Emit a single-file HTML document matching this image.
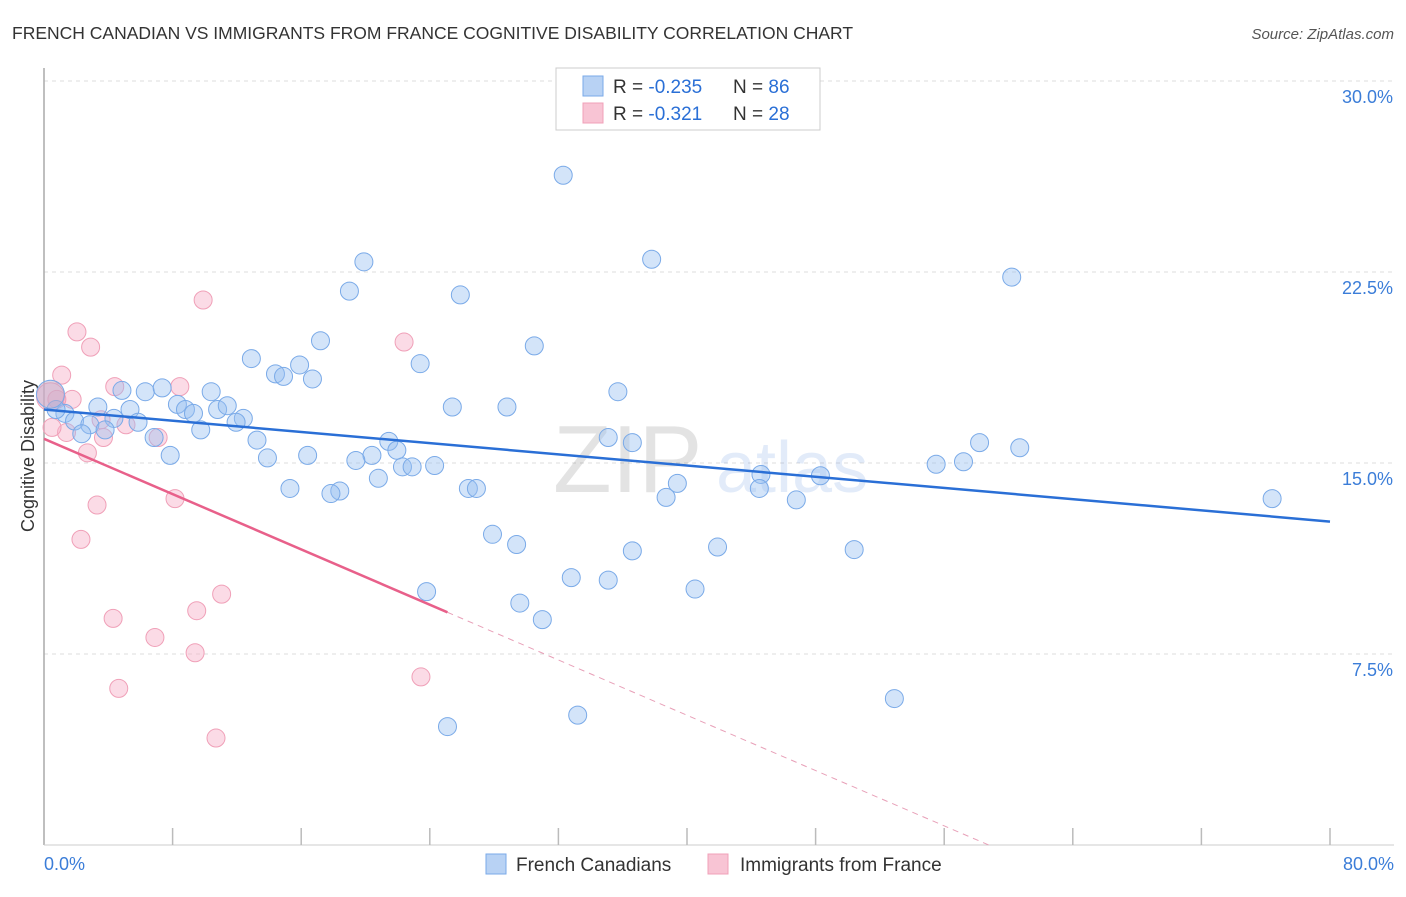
<!DOCTYPE html>
<html><head><meta charset="utf-8"><style>
body{margin:0;background:#fff;font-family:"Liberation Sans",sans-serif;}
svg text{font-family:"Liberation Sans",sans-serif;}
</style></head><body>
<svg id="chart" width="1406" height="892" viewBox="0 0 1406 892" xmlns="http://www.w3.org/2000/svg">
<text x="12" y="39" font-size="17.5" fill="#333">FRENCH CANADIAN VS IMMIGRANTS FROM FRANCE COGNITIVE DISABILITY CORRELATION CHART</text>
<text x="1394" y="39" font-size="15" fill="#555" font-style="italic" text-anchor="end">Source: ZipAtlas.com</text>
<g id="grid"></g>
<g opacity="0.13">
<text x="553" y="492" font-size="96" font-family="Liberation Serif" fill="#333">ZIP</text>
<text x="716" y="492" font-size="72" fill="#2a6fd6">atlas</text>
</g>
<line x1="44" y1="68" x2="44" y2="845" stroke="#aaa" stroke-width="1.5"/>
<line x1="44" y1="845" x2="1394" y2="845" stroke="#ccc" stroke-width="1"/>
<g id="xticks"></g>
<g id="yticks"></g>
<text x="44" y="870" font-size="18" fill="#3b7dd8">0.0%</text>
<text x="1394" y="870" font-size="18" fill="#3b7dd8" text-anchor="end">80.0%</text>
<text transform="translate(34,456) rotate(-90)" font-size="18" fill="#333" text-anchor="middle">Cognitive Disability</text>
<g id="pts-pink"></g>
<g id="pts-blue"></g>
<g id="lines"></g>
<g>
<rect x="556" y="68" width="264" height="62" fill="#fff" stroke="#ccc"/>
<rect x="583" y="76" width="20" height="20" fill="#b8d2f4" stroke="#7aaae8"/>
<rect x="583" y="103" width="20" height="20" fill="#f8c4d4" stroke="#f0a0b8"/>
<text x="613" y="93" font-size="19" fill="#333">R = <tspan fill="#2a6fd6">-0.235</tspan><tspan x="733">N = </tspan><tspan fill="#2a6fd6">86</tspan></text>
<text x="613" y="120" font-size="19" fill="#333">R =  <tspan fill="#2a6fd6">-0.321</tspan><tspan x="733">N = </tspan><tspan fill="#2a6fd6">28</tspan></text>
</g>
<g>
<rect x="486" y="854" width="20" height="20" fill="#b8d2f4" stroke="#7aaae8"/>
<text x="516" y="871" font-size="19" fill="#333">French Canadians</text>
<rect x="708" y="854" width="20" height="20" fill="#f8c4d4" stroke="#f0a0b8"/>
<text x="740" y="871" font-size="19" fill="#333">Immigrants from France</text>
</g>
</svg>
<script>
const yTicks=[7.5,15,22.5,30];
const yTickLabels=["7.5%","15.0%","22.5%","30.0%"];
const xTickCount=10;
const blueX=[32.3,37.8,19.9,60.2,19.0,25.9,17.2,30.5,12.9,15.9,23.4,14.4,14.9,16.7,35.7,4.85,6.3,7.35,10.4,25.4,28.8,3.35,5.35,8.3,8.8,9.3,10.8,11.4,12.4,11.95,1.3,0.75,1.9,2.85,4.35,5.85,3.8,2.35,6.85,9.75,13.25,21.45,21.95,20.4,16.4,19.4,13.9,7.85,22.3,22.9,24.3,20.8,35.1,36.6,58.2,60.7,55.5,57.2,44.6,48.3,39.4,15.3,18.4,17.85,26.4,26.9,38.7,44.5,46.8,76.4,27.9,29.4,36.6,41.9,50.4,32.8,35.1,23.8,40.5,29.6,31.0,52.9,33.2,25.1,37.3,0.4];
const blueY=[26.3,23.0,22.9,22.3,21.75,21.6,19.8,19.6,19.1,18.85,18.9,18.5,18.4,18.3,17.8,17.85,17.8,17.95,17.8,17.2,17.2,17.2,17.1,17.3,17.1,16.95,17.1,17.25,16.75,16.6,16.95,17.1,16.65,16.5,16.75,16.6,16.3,16.15,16.0,16.3,15.9,15.85,15.5,15.3,15.3,15.1,15.2,15.3,14.85,14.85,14.9,14.4,16.0,15.8,15.8,15.6,14.95,15.05,14.55,14.5,14.2,14.0,13.9,13.8,14.0,14.0,13.65,14.0,13.55,13.6,12.2,11.8,11.55,11.7,11.6,10.5,10.4,9.95,10.05,9.5,8.85,5.75,5.1,4.65,29.55,17.7];
const pinkX=[9.9,2.05,2.9,22.4,1.1,4.4,8.45,1.75,0.8,3.55,5.1,7.1,1.4,0.5,3.7,2.7,8.15,3.3,2.3,11.05,9.5,4.3,6.9,9.4,23.45,4.65,10.7,0.4];
const pinkY=[21.4,20.15,19.55,19.75,18.45,18.0,18.0,17.5,17.5,16.7,16.5,16.0,16.2,16.4,16.0,15.4,13.6,13.35,12.0,9.85,9.2,8.9,8.15,7.55,6.6,6.15,4.2,17.6];
const blueTrend=[17.1,12.7]; // y at x=0 and x=80
const pinkTrend=[15.95,-0.2714]; // intercept, slope
const pinkSolidEnd=25.1;
const NS="http://www.w3.org/2000/svg";
const X0=44,X1=1330,Y0=845,Y30=81;
function sx(v){return X0+(X1-X0)*v/80;}
function sy(v){return Y0-(Y0-Y30)*v/30;}
function mk(tag,attrs,parent){const e=document.createElementNS(NS,tag);for(const k in attrs)e.setAttribute(k,attrs[k]);parent.appendChild(e);return e;}
const grid=document.getElementById('grid'),yt=document.getElementById('yticks'),xt=document.getElementById('xticks');
yTicks.forEach((t,i)=>{
 const l=mk('line',{x1:44,x2:1394,y1:sy(t),y2:sy(t),stroke:'#ddd','stroke-dasharray':'4,4'},grid);
 
 
 const tx=mk('text',{x:1393,y:sy(t)+22,'font-size':18,fill:'#3b7dd8','text-anchor':'end'},yt);
 tx.textContent=yTickLabels[i];
 
 
});
for(let i=1;i<=xTickCount;i++){
 const l=mk('line',{x1:sx(i*8),x2:sx(i*8),y1:828,y2:845,stroke:'#bbb','stroke-width':1.5},xt);
 
 
}
const gp=document.getElementById('pts-pink'),gb=document.getElementById('pts-blue');
pinkX.forEach((x,i)=>{
 const big=i===pinkX.length-1;
 const c=mk('circle',{cx:sx(x),cy:sy(pinkY[i]),r:big?14:9,fill:'rgba(246,176,200,0.45)',stroke:'#f0a0b8','stroke-width':1},gp);
 
 
});
blueX.forEach((x,i)=>{
 const big=i===blueX.length-1;
 const c=mk('circle',{cx:sx(x),cy:sy(blueY[i]),r:big?14:9,fill:big?'rgba(190,170,200,0.5)':'rgba(150,190,240,0.42)',stroke:'#7aaae8','stroke-width':1},gb);
 
 
});
const gl=document.getElementById('lines');
const bl=mk('line',{x1:sx(0),y1:sy(blueTrend[0]),x2:sx(80),y2:sy(blueTrend[1]),stroke:'#2a6fd6','stroke-width':2.5},gl);


const pz=-pinkTrend[0]/pinkTrend[1];
const pl=mk('line',{x1:sx(0),y1:sy(pinkTrend[0]),x2:sx(pinkSolidEnd),y2:sy(pinkTrend[0]+pinkTrend[1]*pinkSolidEnd),stroke:'#e8608a','stroke-width':2.5},gl);


const pd=mk('line',{x1:sx(pinkSolidEnd),y1:sy(pinkTrend[0]+pinkTrend[1]*pinkSolidEnd),x2:sx(pz),y2:sy(0),stroke:'#e8a0b8','stroke-width':1,'stroke-dasharray':'6,5'},gl);


</script>
</body></html>
